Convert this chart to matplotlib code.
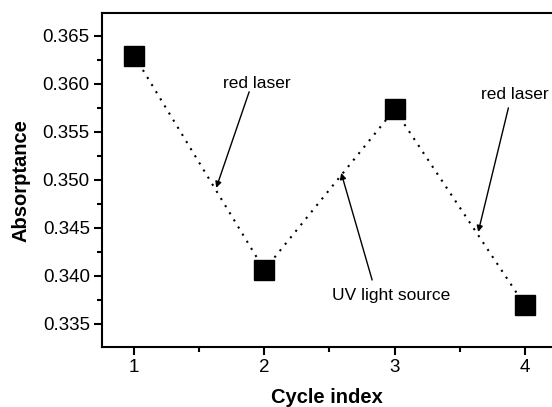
import matplotlib.pyplot as plt
from matplotlib.ticker import MultipleLocator

plt.rcParams['font.family'] = ['Liberation Sans', 'DejaVu Sans']

cycles = [1, 2, 3, 4]
absorptance = [0.3629, 0.3406, 0.3573, 0.33695]
xticks = [1, 2, 3, 4]

fig = plt.figure(figsize=(5.52, 4.07), dpi=100)
ax = fig.add_axes([0.184, 0.148, 0.816, 0.819])

ax.plot(cycles, absorptance, color='black', lw=1.5, linestyle=(0, (1, 3)),
        marker='s', markersize=15, markerfacecolor='black', markeredgecolor='black')

ax.set_xlim(0.749, 4.21)
ax.set_ylim(0.3326, 0.3673)
ax.set_xticks(xticks)
ax.xaxis.set_minor_locator(MultipleLocator(0.5))
ax.yaxis.set_major_locator(MultipleLocator(0.005))
ax.yaxis.set_minor_locator(MultipleLocator(0.0025))
ax.yaxis.set_major_formatter(plt.FormatStrFormatter('%.3f'))

ax.tick_params(which='major', direction='out', length=5.5, width=1.5, labelsize=13.5, pad=3)
ax.tick_params(which='minor', direction='out', length=3.5, width=1.5)
ax.tick_params(top=False, right=False, which='both')
for side in ['left', 'bottom', 'top']:
    ax.spines[side].set_linewidth(1.5)
ax.spines['right'].set_visible(False)

ax.set_xlabel('Cycle index', fontsize=14.5, fontweight='bold', labelpad=9)
ax.set_ylabel('Absorptance', fontsize=14.5, fontweight='bold', labelpad=9)

arrow = dict(arrowstyle='-|>', color='black', lw=1, mutation_scale=9, shrinkA=0, shrinkB=0)
ax.text(1.945, 0.35997, 'red laser', fontsize=12.5, ha='center', va='center')
ax.annotate('', xy=(1.630, 0.34914), xytext=(1.883, 0.35914), arrowprops=arrow)
ax.text(3.921, 0.35882, 'red laser', fontsize=12.5, ha='center', va='center')
ax.annotate('', xy=(3.643, 0.34455), xytext=(3.875, 0.35747), arrowprops=arrow)
ax.text(2.975, 0.33789, 'UV light source', fontsize=12.5, ha='center', va='center')
ax.annotate('', xy=(2.590, 0.35070), xytext=(2.828, 0.33955), arrowprops=arrow)

fig.savefig('out.png', dpi=100)
